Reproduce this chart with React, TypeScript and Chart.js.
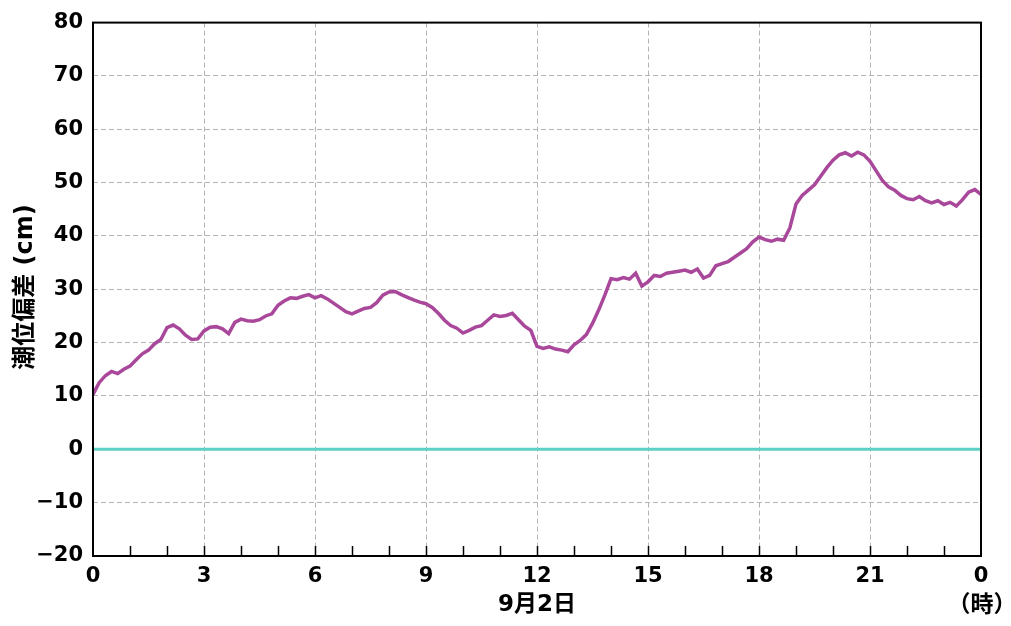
import React, { useEffect, useRef } from "react";
import { Chart, registerables } from "chart.js";

Chart.register(...registerables);

// 10-minute samples, 0:00 to 24:00 (9月2日)
const tideAnomaly: number[] = [
  10.3, 12.5, 13.8, 14.6, 14.2, 15.0,
  15.6, 16.8, 17.9, 18.6, 19.8, 20.6,
  22.8, 23.3, 22.6, 21.4, 20.6, 20.7,
  22.2, 22.9, 23.0, 22.6, 21.7, 23.8,
  24.4, 24.1, 24.0, 24.3, 25.0, 25.4,
  27.0, 27.8, 28.4, 28.3, 28.7, 29.0,
  28.4, 28.8, 28.2, 27.4, 26.6, 25.8,
  25.4, 25.9, 26.4, 26.6, 27.5, 28.9,
  29.5, 29.6, 29.0, 28.5, 28.0, 27.6,
  27.3, 26.6, 25.5, 24.2, 23.2, 22.7,
  21.8, 22.3, 22.9, 23.2, 24.2, 25.2,
  24.9, 25.1, 25.5, 24.3, 23.1, 22.3,
  19.3, 18.9, 19.2, 18.8, 18.6, 18.3,
  19.6, 20.4, 21.5, 23.6, 26.1, 28.9,
  32.0, 31.8, 32.2, 31.9, 33.0, 30.6,
  31.4, 32.6, 32.4, 33.0, 33.2, 33.4,
  33.6, 33.2, 33.8, 32.1, 32.6, 34.4,
  34.8, 35.2, 36.0, 36.8, 37.6, 38.9,
  39.8, 39.3, 39.0, 39.4, 39.2, 41.5,
  46.0, 47.6, 48.6, 49.6, 51.2, 52.8,
  54.2, 55.2, 55.6, 55.0, 55.7, 55.2,
  54.0, 52.2, 50.4, 49.2, 48.6, 47.6,
  47.0, 46.8, 47.4, 46.6, 46.2, 46.6,
  45.9, 46.3, 45.6, 46.8, 48.2, 48.7,
  47.8,
];
const baselineHours: number[] = [0, 24];
const baselineValues: number[] = [0, 0];
const xTickLabels: string[] = ["0", "3", "6", "9", "12", "15", "18", "21", "0"];
const yMin = -20;
const yMax = 80;
const dateLabel = "9月2日";
const hourUnitLabel = "（時）";
const yTitle = "潮位偏差 (cm)";

const FONT = "'DejaVu Sans', 'Noto Sans CJK JP', sans-serif";

const decorPlugin = {
  id: "decor",
  afterDatasetsDraw(chart: any) {
    const { ctx, chartArea, scales } = chart;
    const x = scales.x;
    ctx.save();
    // minor ticks, inward from bottom
    ctx.strokeStyle = "#000";
    ctx.lineWidth = 1.5;
    for (let h = 1; h < 24; h++) {
      const px = Math.round(x.getPixelForValue(h)) + 0.5;
      ctx.beginPath();
      ctx.moveTo(px, chartArea.bottom);
      ctx.lineTo(px, chartArea.bottom - 10);
      ctx.stroke();
    }
    // frame
    ctx.lineWidth = 2;
    ctx.strokeRect(chartArea.left, chartArea.top, chartArea.right - chartArea.left, chartArea.bottom - chartArea.top);
    // texts
    ctx.fillStyle = "#000";
    ctx.textAlign = "center";
    ctx.textBaseline = "middle";
    ctx.font = "bold 23px " + FONT;
    ctx.fillText(dateLabel, x.getPixelForValue(12), 605);
    ctx.font = "bold 23px " + FONT;
    ctx.fillText(hourUnitLabel, x.getPixelForValue(24) + 1, 606);
    ctx.font = "bold 24px " + FONT;
    ctx.translate(26, 287);
    ctx.rotate(-Math.PI / 2);
    ctx.fillText(yTitle, 0, 0);
    ctx.restore();
  },
};

export default function App() {
  const ref = useRef<HTMLCanvasElement | null>(null);
  useEffect(() => {
    if (!ref.current) return;
    const lineData = tideAnomaly.map((v, i) => ({ x: i / 6, y: v }));
    const baseData = baselineHours.map((h, i) => ({ x: h, y: baselineValues[i] }));
    const chart = new Chart(ref.current, {
      type: "line",
      data: {
        datasets: [
          {
            label: "潮位偏差",
            data: lineData,
            borderColor: "#a9489b",
            borderWidth: 3.5,
            pointRadius: 0,
            tension: 0,
          },
          {
            label: "0",
            data: baseData,
            borderColor: "#5ed0c6",
            borderWidth: 3,
            pointRadius: 0,
          },
        ],
      },
      plugins: [decorPlugin],
      options: {
        animation: false,
        responsive: false,
        maintainAspectRatio: false,
        layout: { padding: { top: 20, right: 30, left: 0, bottom: 0 } },
        plugins: { legend: { display: false }, tooltip: { enabled: false } },
        scales: {
          x: {
            type: "linear",
            min: 0,
            max: 24,
            afterFit: (s: any) => { s.height = 70; },
            afterBuildTicks: (s: any) => {
              s.ticks = xTickLabels.map((_, i) => ({ value: i * 3 }));
            },
            ticks: {
              autoSkip: false,
              maxRotation: 0,
              padding: 8,
              color: "#000",
              font: { family: FONT, size: 21, weight: "bold" },
              callback: (_v: any, i: number) => xTickLabels[i],
            },
            grid: {
              drawTicks: false,
              color: "#b4b4b4",
              lineWidth: 1,
            },
            border: { display: false, dash: [5, 3] },
          },
          y: {
            min: yMin,
            max: yMax,
            afterFit: (s: any) => { s.width = 93; },
            ticks: {
              stepSize: 10,
              padding: 10,
              color: "#000",
              font: { family: FONT, size: 21, weight: "bold" },
              callback: (v: any) => String(v).replace("-", "\u2212"),
            },
            grid: {
              drawTicks: false,
              color: "#b4b4b4",
              lineWidth: 1,
            },
            border: { display: false, dash: [5, 3] },
          },
        },
      },
    });
    return () => chart.destroy();
  }, []);
  return (
    <div style={{ position: "fixed", left: 0, top: 0, width: 1011, height: 626, background: "#fff" }}>
      <canvas ref={ref} width={1011} height={626} style={{ width: 1011, height: 626 }} />
    </div>
  );
}
